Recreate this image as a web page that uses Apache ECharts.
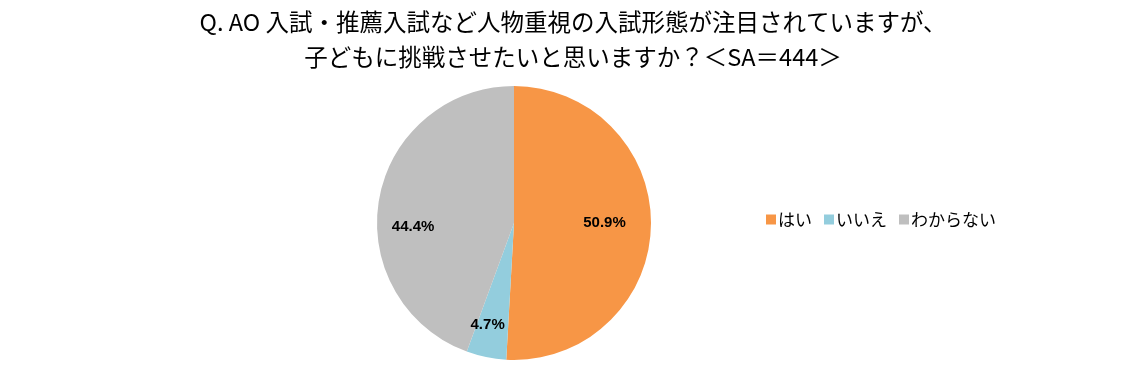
<!DOCTYPE html>
<html><head><meta charset="utf-8">
<script src="https://cdn.jsdelivr.net/npm/echarts@6/dist/echarts.min.js"></script>
<style>html,body{margin:0;padding:0;background:#fff;}#c{width:1132px;height:379px;}</style>
</head><body><div id="c"></div>
<script>
const titleLines = ["Q. AO 入試・推薦入試など人物重視の入試形態が注目されていますが、", "子どもに挑戦させたいと思いますか？＜SA＝444＞"];
const categories = ["はい", "いいえ", "わからない"];
const values = [50.9, 4.7, 44.4];
const colors = ["#F79646", "#93CDDD", "#BFBFBF"];
const labelOffsets = [[-10, -3], [-6, 3], [-2, 21]];

const data = categories.map((c, i) => ({ name: c, value: values[i], itemStyle: { color: colors[i] } }));
const chart = echarts.init(document.getElementById('c'));
chart.setOption({
  animation: false,
  title: {
    text: titleLines.join('\n'),
    left: 568, top: 0, textAlign: 'center',
    textStyle: { fontFamily: 'Noto Sans CJK JP', fontSize: 23.5, fontWeight: 'normal', color: '#000', lineHeight: 35 }
  },
  legend: {
    orient: 'horizontal', left: 761, top: 206,
    itemWidth: 10, itemHeight: 10, itemGap: 12,
    icon: 'rect',
    textStyle: { fontFamily: 'Noto Sans CJK JP', fontSize: 17, color: '#000', padding: [0, 0, 0, -3] },
    data: categories
  },
  series: [{
    type: 'pie', center: [514, 223], radius: [0, 137], startAngle: 90, clockwise: true,
    label: { show: false }, labelLine: { show: false },
    itemStyle: { borderWidth: 0 },
    emphasis: { disabled: true },
    data: data
  }, {
    type: 'pie', center: [514, 223], radius: [58, 137], startAngle: 90, clockwise: true,
    silent: true, legendHoverLink: false,
    itemStyle: { color: 'rgba(0,0,0,0)', borderWidth: 0 },
    label: { show: true, position: 'inside', formatter: p => p.value.toFixed(1) + '%', fontFamily: 'Liberation Sans', fontWeight: 'bold', fontSize: 15, color: '#000' },
    labelLine: { show: false },
    emphasis: { disabled: true },
    data: categories.map((c, i) => ({ name: c + ' ', value: values[i], label: { offset: labelOffsets[i] } }))
  }]
});
</script></body></html>
